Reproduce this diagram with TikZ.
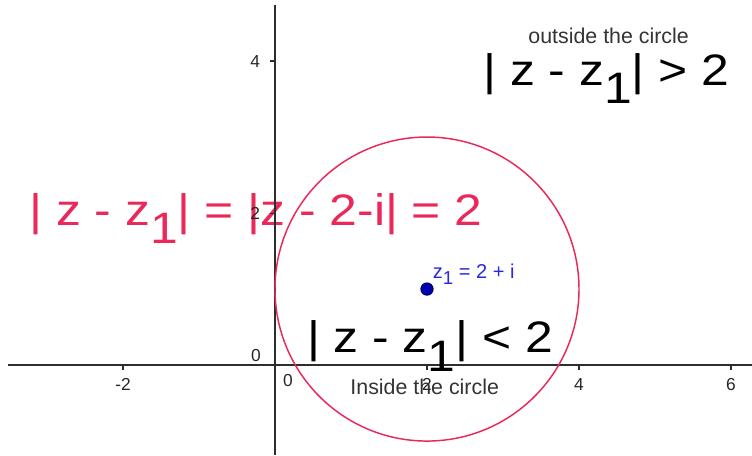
\documentclass[tikz,border=0pt]{standalone}
\usepackage{fontspec}
\setmainfont{Liberation Sans}
\usepackage{xcolor}
\usetikzlibrary{positioning}

\definecolor{circred}{RGB}{234,40,90}
\definecolor{ptblue}{RGB}{40,40,225}
\definecolor{axisgray}{RGB}{45,45,45}
\newcommand{\zone}{z\raisebox{-0.42em}{1}}
\newcommand{\zonesmall}{z\raisebox{-0.3em}{\scriptsize 1}}

\begin{document}
\begin{tikzpicture}[x=1cm, y=1cm,
    big/.style={font=\fontsize{16.5}{19}\selectfont, xscale=1.13, inner sep=0pt, anchor=base},
    note/.style={font=\fontsize{8}{10}\selectfont, text=black!80, inner sep=0pt},
    ticklbl/.style={font=\fontsize{6.5}{8}\selectfont, text=black!85, inner sep=0pt},
    dot/.style={circle, fill=blue!70!black, draw=blue!40!black, inner sep=0pt, minimum size=1.6mm}]
    \useasboundingbox (-3.618,-1.184) rectangle (6.276,4.803);

    % equation of the circle
    \node[big, text=circred] (eqn) at (-0.25,1.84) {| z - \zone| = |z - 2-i| = 2};

    % axes
    \coordinate (xmin) at (-3.51,0);
    \coordinate (xmax) at (6.276,0);
    \coordinate (ymin) at (0,-1.184);
    \coordinate (ymax) at (0,4.74);
    \draw[axisgray, line width=0.55pt] (xmin) -- (xmax);
    \draw[axisgray, line width=0.55pt] (ymin) -- (ymax);
    \foreach \x/\lbl in {-2/-2, 2/2, 4/4, 6/6}{
        \draw[axisgray, line width=0.4pt] (\x,0) -- (\x,-0.06);
        \node[ticklbl] (xt\x) at (\x,-0.26) {\lbl};
    }
    \foreach \y in {2,4}{
        \draw[axisgray, line width=0.4pt] (0,\y) -- (-0.07,\y);
        \node[ticklbl] (yt\y) at (-0.26,\y) {\y};
    }
    \node[ticklbl] (xt0) at (0.17,-0.21) {0};
    \node[ticklbl] (yt0) at (-0.25,0.13) {0};

    % circle |z - z1| = 2
    \draw[circred, line width=0.55pt] (2,1) circle (2);

    % centre z1
    \node[dot] (z1) at (2,1) {};
    \node[font=\fontsize{7.5}{9}\selectfont, text=ptblue, inner sep=0pt, anchor=base west] (z1lbl) at (2.07,1.14) {\zonesmall{} = 2 + i};

    % regions
    \node[note] (outlbl) at (4.39,4.33) {outside the circle};
    \node[big] (outeq) at (4.36,3.68) {| z - \zone| > 2};
    \node[big] (ineq) at (2.04,0.16) {| z - \zone| < 2};
    \node[note] (inlbl) at (1.97,-0.29) {Inside the circle};
\end{tikzpicture}
\end{document}
